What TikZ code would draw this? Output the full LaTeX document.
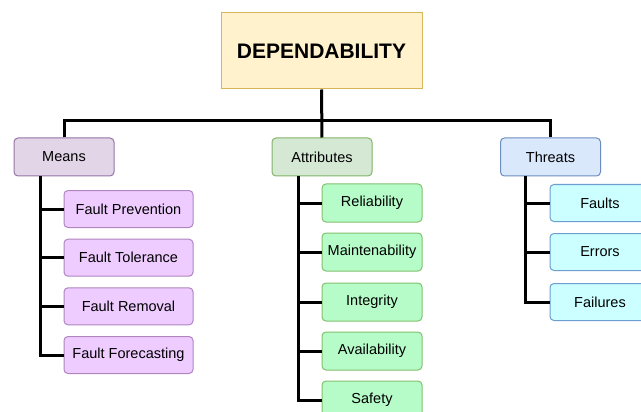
\documentclass[tikz,border=0pt]{standalone}
\usepackage{fontspec}
\setmainfont{Liberation Sans}
\definecolor{rootfill}{HTML}{FFF2CC}
\definecolor{rootline}{HTML}{D6B656}
\definecolor{meanfill}{HTML}{E1D5E7}
\definecolor{meanline}{HTML}{9673A6}
\definecolor{meankid}{HTML}{EFCCFF}
\definecolor{meankidline}{HTML}{B085C0}
\definecolor{attrfill}{HTML}{D5E8D4}
\definecolor{attrline}{HTML}{82B366}
\definecolor{attrkid}{HTML}{B6FCC9}
\definecolor{attrkidline}{HTML}{82C06E}
\definecolor{thrfill}{HTML}{DAE8FC}
\definecolor{thrline}{HTML}{6C8EBF}
\definecolor{thrkid}{HTML}{CCFFFF}
\definecolor{thrkidline}{HTML}{6C9ED0}
\tikzset{
  box/.style={draw, rounded corners=4pt, line width=1pt, align=center,
    inner sep=0pt, font=\fontsize{14.5}{17}\selectfont},
  rootbox/.style={draw=rootline, fill=rootfill, line width=1pt, inner sep=0pt,
    minimum width=201pt, minimum height=76pt,
    font=\fontsize{21}{24}\selectfont\bfseries},
  headbox/.style={box, minimum width=100pt, minimum height=38pt},
  meanhead/.style={headbox, draw=meanline, fill=meanfill},
  attrhead/.style={headbox, draw=attrline, fill=attrfill},
  thrhead/.style={headbox, draw=thrline, fill=thrfill},
  meanitem/.style={box, draw=meankidline, fill=meankid, minimum width=129pt, minimum height=37pt},
  attritem/.style={box, draw=attrkidline, fill=attrkid, minimum width=100pt, minimum height=38pt},
  thritem/.style={box, draw=thrkidline, fill=thrkid, minimum width=100pt, minimum height=37pt},
  wire/.style={line width=3pt, line cap=butt}
}
\begin{document}
\begin{tikzpicture}[x=1pt, y=-1pt]
\clip (0,0) rectangle (641,412);
\fill[white] (0,0) rectangle (641,412);

% root
\node[rootbox] (root) at (321.5,51) {DEPENDABILITY};

% category heads
\node[meanhead] (means) at (64,157) {Means};
\node[attrhead] (attr) at (322,157) {Attributes};
\node[thrhead] (thr) at (550.5,157) {Threats};

% means items
\node[meanitem] (fp) at (128.5,209) {Fault Prevention};
\node[meanitem] (ft) at (128.5,257.7) {Fault Tolerance};
\node[meanitem] (fr) at (128.5,306.3) {Fault Removal};
\node[meanitem] (ff) at (128.5,355) {Fault Forecasting};

% attribute items
\node[attritem] (rel) at (372,203) {Reliability};
\node[attritem] (mai) at (372,252) {Maintenability};
\node[attritem] (int) at (372,302) {Integrity};
\node[attritem] (ava) at (372,351) {Availability};
\node[attritem] (saf) at (372,400) {Safety};

% threat items
\node[thritem] (fau) at (600,203) {Faults};
\node[thritem] (err) at (600,252) {Errors};
\node[thritem] (fai) at (600,302) {Failures};

% top bus
\coordinate (bus) at (0,121);
\draw[wire] (root.south) -- (attr.north);
\draw[wire] (means.north) |- (bus -| root.south) -| (thr.north);

% trunks
\coordinate (mt) at ([xshift=-24pt]means.south);
\coordinate (at) at ([xshift=-24pt]attr.south);
\coordinate (tt) at ([xshift=-25.5pt]thr.south);

\draw[wire] (mt) |- (ff.west);
\foreach \k in {fp,ft,fr} \draw[wire] (mt |- \k.west) -- (\k.west);

\draw[wire] (at) |- (saf.west);
\foreach \k in {rel,mai,int,ava} \draw[wire] (at |- \k.west) -- (\k.west);

\draw[wire] (tt) |- (fai.west);
\foreach \k in {fau,err} \draw[wire] (tt |- \k.west) -- (\k.west);
\end{tikzpicture}
\end{document}
